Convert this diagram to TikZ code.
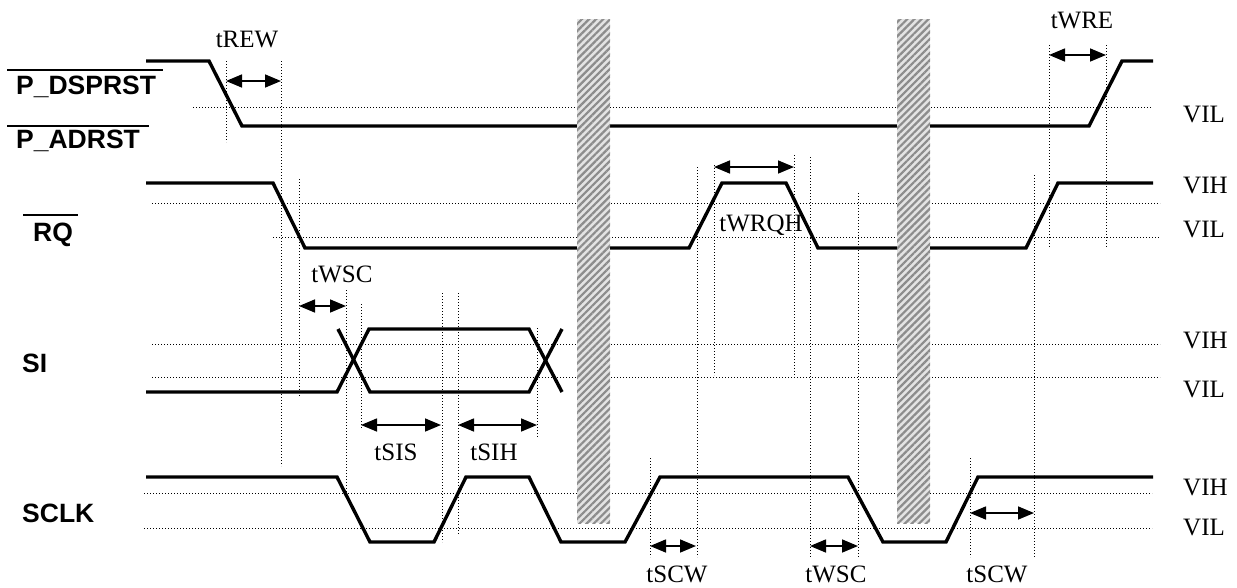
\documentclass[tikz,border=0pt]{standalone}
\usepackage{fontspec}
\setmainfont{Liberation Serif}
\setsansfont{Liberation Sans}
\usetikzlibrary{arrows.meta, patterns.meta}

\begin{document}
\begin{tikzpicture}[
    x=1pt, y=-1pt,
    sig/.style={line width=3.4pt, line join=miter},
    guide/.style={line width=1pt, dash pattern=on 1.2pt off 1.8pt},
    dim/.style={{Triangle[length=16pt, width=13pt]}-{Triangle[length=16pt, width=13pt]},
                line width=1.6pt},
    bar/.style={line width=1.8pt},
    tlab/.style={font=\fontsize{25}{29}\selectfont, inner sep=0pt, anchor=base},
    vlab/.style={font=\fontsize{25}{29}\selectfont, inner sep=0pt, anchor=base west},
    sname/.style={font=\sffamily\bfseries\fontsize{26.5}{30}\selectfont, inner sep=0pt,
                  anchor=base west},
    hatch/.style={fill=gray!22, postaction={pattern={Lines[angle=45, distance=5pt,
                  line width=2.2pt]}, pattern color=gray!90}},
]
\useasboundingbox (0,0) rectangle (1237,587);

% ---------- Signal names (left) ----------
\node[sname] (dsp)  at (16,94)  {P\_DSPRST};
\node[sname] (adr)  at (16,148) {P\_ADRST};
\node[sname] (rq)   at (33,241) {RQ};
\node[sname] (si)   at (22,372) {SI};
\node[sname] (sclk) at (22,522) {SCLK};
\draw[bar] ([xshift=-9pt, yshift=5pt]dsp.north west) -- ([xshift=7pt, yshift=5pt]dsp.north east);
\draw[bar] ([xshift=-9pt, yshift=3pt]adr.north west) -- ([xshift=9pt, yshift=3pt]adr.north east);
\draw[bar] ([xshift=-10pt, yshift=7pt]rq.north west) -- ([xshift=5pt, yshift=7pt]rq.north east);

% ---------- Threshold levels (right) ----------
\node[vlab] (dsp-vil) at (1183,122) {VIL};
\node[vlab] (rq-vih)  at (1183,193) {VIH};
\node[vlab] (rq-vil)  at (1183,237) {VIL};
\node[vlab] (si-vih)  at (1183,348) {VIH};
\node[vlab] (si-vil)  at (1183,397) {VIL};
\node[vlab] (ck-vih)  at (1183,495) {VIH};
\node[vlab] (ck-vil)  at (1183,535) {VIL};

% ---------- Dotted level lines ----------
\draw[guide] (193,107) -- (1152,107);
\draw[guide] (152,203) -- (1160,203);
\draw[guide] (273,237) -- (1160,237);
\draw[guide] (152,344) -- (1160,344);
\draw[guide] (152,377) -- (1160,377);
\draw[guide] (144,493) -- (1152,493);
\draw[guide] (144,528) -- (1152,528);

% ---------- Dotted timing marks ----------
\draw[guide] (226,61)  -- (226,142);
\draw[guide] (281,61)  -- (281,466);
\draw[guide] (299,179) -- (299,397);
\draw[guide] (346,290) -- (346,498);
\draw[guide] (361,304) -- (361,429);
\draw[guide] (442,293) -- (442,542);
\draw[guide] (458,293) -- (458,534);
\draw[guide] (537,328) -- (537,437);
\draw[guide] (650,458) -- (650,557);
\draw[guide] (697,167) -- (697,557);
\draw[guide] (714,165) -- (714,375);
\draw[guide] (794,155) -- (794,377);
\draw[guide] (810,157) -- (810,557);
\draw[guide] (858,193) -- (858,557);
\draw[guide] (970,458) -- (970,557);
\draw[guide] (1034,175) -- (1034,557);
\draw[guide] (1049,45) -- (1049,247);
\draw[guide] (1106,45) -- (1106,247);

% ---------- Waveforms ----------
\draw[sig] (146,61) -- (209,61) -- (242,126) -- (1089,126) -- (1122,61) -- (1153,61);
\draw[sig] (146,183) -- (273,183) -- (305,248) -- (689,248) -- (722,183) -- (786,183)
           -- (818,248) -- (1026,248) -- (1058,183) -- (1153,183);
\draw[sig] (146,392) -- (337,392) -- (369,329) -- (529,329) -- (562,392);
\draw[sig] (338,329) -- (370,392) -- (529,392) -- (562,329);
\draw[sig] (146,477) -- (337,477) -- (370,542) -- (434,542) -- (466,477) -- (529,477)
           -- (561,542) -- (625,542) -- (660,477) -- (848,477) -- (883,542) -- (946,542)
           -- (978,477) -- (1153,477);

% ---------- Time breaks ----------
\path[hatch] (577,19) rectangle (610,523);
\path[hatch] (897,19) rectangle (930,523);

% ---------- Timing arrows ----------
\coordinate (rew-l)  at (226,81);   \coordinate (rew-r)  at (281,81);
\coordinate (wre-l)  at (1049,55);  \coordinate (wre-r)  at (1106,55);
\coordinate (wsc-l)  at (299,306);  \coordinate (wsc-r)  at (346,306);
\coordinate (wrqh-l) at (714,167);  \coordinate (wrqh-r) at (794,167);
\coordinate (sis-l)  at (361,425);  \coordinate (sis-r)  at (441,425);
\coordinate (sih-l)  at (458,425);  \coordinate (sih-r)  at (537,425);
\coordinate (scw-l)  at (650,546);  \coordinate (scw-r)  at (696,546);
\coordinate (wsc2-l) at (810,546);  \coordinate (wsc2-r) at (858,546);
\coordinate (scw2-l) at (970,513);  \coordinate (scw2-r) at (1034,513);

\draw[dim] (rew-l)  -- (rew-r);
\draw[dim] (wre-l)  -- (wre-r);
\draw[dim] (wsc-l)  -- (wsc-r);
\draw[dim] (wrqh-l) -- (wrqh-r);
\draw[dim] (sis-l)  -- (sis-r);
\draw[dim] (sih-l)  -- (sih-r);
\draw[dim] (scw-l)  -- (scw-r);
\draw[dim] (wsc2-l) -- (wsc2-r);
\draw[dim] (scw2-l) -- (scw2-r);

% ---------- Timing labels ----------
\node[tlab] (trew)  at (247,47)   {tREW};
\node[tlab] (twre)  at (1082,28)  {tWRE};
\node[tlab] (twsc)  at (342,282)  {tWSC};
\node[tlab] (twrqh) at (761,231)  {tWRQH};
\node[tlab] (tsis)  at (396,460)  {tSIS};
\node[tlab] (tsih)  at (494,460)  {tSIH};
\node[tlab] (tscw)  at (677,582)  {tSCW};
\node[tlab] (twsc2) at (836,582)  {tWSC};
\node[tlab] (tscw2) at (997,582)  {tSCW};

\end{tikzpicture}
\end{document}
